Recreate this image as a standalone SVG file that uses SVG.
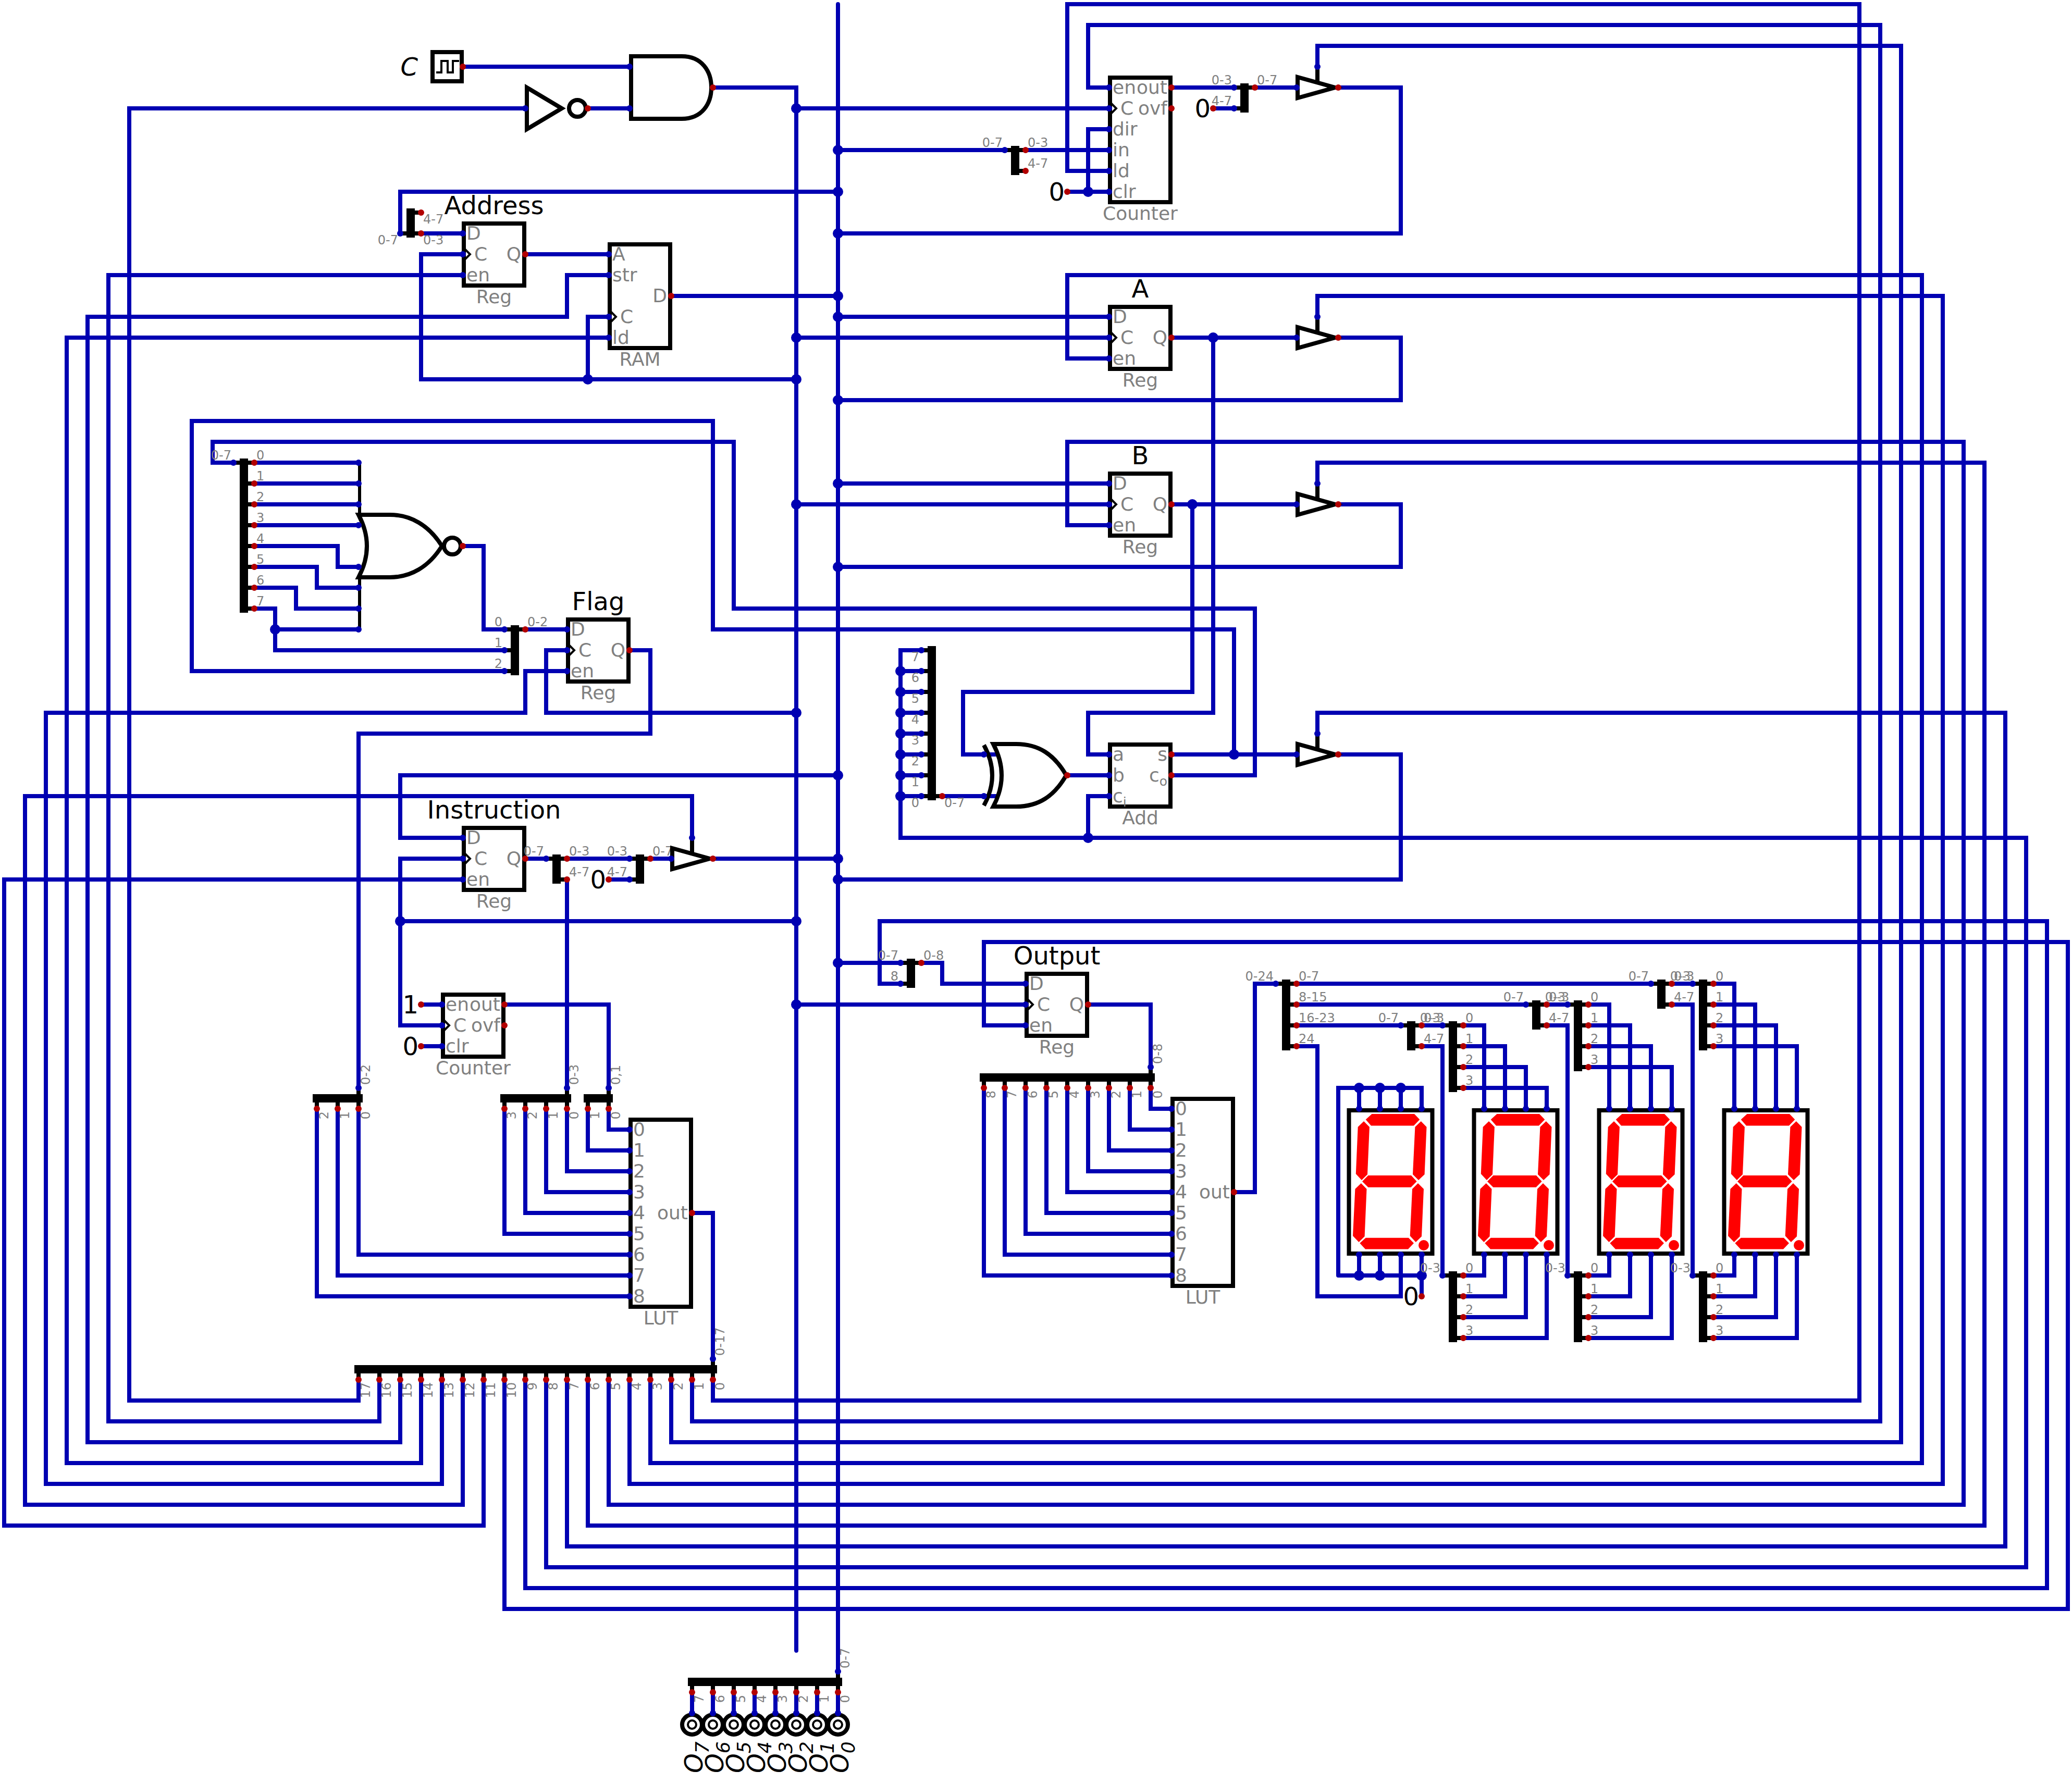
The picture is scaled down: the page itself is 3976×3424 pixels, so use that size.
<svg xmlns="http://www.w3.org/2000/svg" xmlns:xlink="http://www.w3.org/1999/xlink" width="3976" height="3424" viewBox="0 0 3976 3424">
<style>
.w{fill:none;stroke:#0000b2;stroke-width:8;stroke-linecap:round;stroke-linejoin:miter}
.j{fill:none;stroke:#0000b2;stroke-width:20;stroke-linecap:round}
.pi{fill:none;stroke:#0000b2;stroke-width:12;stroke-linecap:round}
.po{fill:none;stroke:#b20000;stroke-width:12;stroke-linecap:round}
.k{fill:none;stroke:#000;stroke-width:8}
.b{fill:#fff;stroke:#000;stroke-width:8}
.t{fill:none;stroke:#000;stroke-width:4}
text{font-family:"DejaVu Sans","Liberation Sans",sans-serif}
.l{font-size:36px;fill:#808080}
.s{font-size:24px;fill:#808080}
.n{font-size:48px;fill:#000}
.e{text-anchor:end}
.m{text-anchor:middle}
.i{font-style:italic}
.u{font-size:36px}
.v{font-size:25px}
</style>
<defs>
<g id="seg" fill="#f00">
<polygon points="12.7,20.7 24.5,10 106,10 116.3,20.7 104.9,32.4 23,32.4"/>
<polygon points="9,24 19.9,35 16,126 4.9,137 -6.2,125 -2.3,35"/>
<polygon points="118.8,24 129.5,35 125.6,126 114,137 103,126 107.4,35"/>
<polygon points="6,139.6 17.4,128 100,128 110.6,139.6 99.5,150.8 17.4,150.8"/>
<polygon points="3.8,143 14.5,154 10.6,245 -0.5,256 -12,244 -7.6,154"/>
<polygon points="113,143 124,154 120,245 108.8,256 97.7,244 102,154"/>
<polygon points="1.3,258 12.7,247.7 94.9,247.7 105,258 94,269.6 12,269.6"/>
<circle cx="124" cy="262" r="10"/>
</g>
<g id="ring"><circle r="19" fill="none" stroke="#000" stroke-width="8"/><circle r="8" fill="none" stroke="#000" stroke-width="4"/></g>
</defs>
<g transform="translate(8 8)">
<g id="connectors">
<path class="w" d="M880 120H1200M1120 200H1200M1360 160H1520V3160M1520 200H2120M1600 0V3200"/>
<path class="w" d="M760 440V360H1600M800 440H880M1000 480H1160M880 480H800V720H1520M1120 720V600H1160M1280 560H1600"/>
<path class="w" d="M1600 280H1920M1960 280H2120M2120 240H2080V360M2040 360H2120M2240 160H2360M2320 200H2360M2400 160H2480M2560 160H2680V440H1600"/>
<path class="w" d="M1600 600H2120M1520 640H2120M2240 640H2480M2560 640H2680V760H1600M2320 640V1360H2080V1440H2120"/>
<path class="w" d="M1600 920H2120M1520 960H2120M2240 960H2480M2560 960H2680V1080H1600M2280 960V1320H1840V1440H1905"/>
<path class="w" d="M480 880H680M480 920H680M480 960H680M480 1000H680M480 1040H640V1080H680M480 1080H600V1120H680M480 1120H560V1160H680M480 1160H520V1240H960M520 1200H680M880 1040H920V1200H960M1000 1200H1080"/>
<path class="w" d="M1080 1240H1040V1360H1520M1200 1240H1240V1400H680V2080M960 1280H360V800H1360V1200H2360V1440M440 880H400V840H1400V1160H2400V1480H2240M2240 1440H2480M2560 1440H2680V1680H1600"/>
<path class="w" d="M1800 1520H1905M2040 1480H2120M2120 1520H2080V1600M1720 1280H1760M1720 1320H1760M1720 1360H1760M1720 1400H1760M1720 1440H1760M1720 1480H1760M1720 1520H1760"/>
<path class="w" d="M880 1600H760V1480H1600M880 1640H760V1960H840M760 1760H1520M1000 1640H1040M1080 1640H1200M1160 1680H1200M1240 1640H1280M1360 1640H1600M1080 1680V2080M800 1920H840M800 2000H840M960 1920H1160V2080"/>
<path class="w" d="M1160 2120V2160H1200M1120 2120V2200H1200M1080 2120V2240H1200M1040 2120V2280H1200M1000 2120V2320H1200M960 2120V2360H1200M680 2120V2400H1200M640 2120V2440H1200M600 2120V2480H1200M1320 2320H1360V2600"/>
<path class="w" d="M1360 2640V2680H3560V0H2040V320H2120M1320 2640V2720H3600V40H2080V160H2120M1280 2640V2760H3640V80H2520V120M1240 2640V2800H3680V520H2040V680H2120M1200 2640V2840H3720V560H2520V600M1160 2640V2880H3760V840H2040V1000H2120M1120 2640V2920H3800V880H2520V920M1080 2640V2960H3840V1360H2520V1400M1040 2640V3000H3880V1600H1720V1240H1760M1000 2640V3040H3920V1760H1680V1880H1720M960 2640V3080H3960V1800H1880V1960H1960"/>
<path class="w" d="M920 2640V2920H0V1680H880M880 2640V2880H40V1520H1320V1600M840 2640V2840H80V1360H1000V1280H1080M800 2640V2800H120V640H1160M760 2640V2760H160V600H1080V520H1160M720 2640V2720H200V520H880M680 2640V2680H240V200H1000"/>
<path class="w" d="M1600 1840H1720M1760 1840H1800V1880H1960M1520 1920H1960M2080 1920H2200V2040M2200 2080V2120H2240M2160 2080V2160H2240M2120 2080V2200H2240M2080 2080V2240H2240M2040 2080V2280H2240M2000 2080V2320H2240M1960 2080V2360H2240M1920 2080V2400H2240M1880 2080V2440H2240M2360 2280H2400V1880H2440"/>
<path class="w" d="M2560 2440V2080H2720V2120M2600 2080V2120M2640 2080V2120M2680 2080V2120M2560 2440H2720M2600 2400V2440M2640 2400V2440M2720 2400V2480M2680 2400V2480H2520V2000H2480"/>
<path class="w" d="M2480 1960H2680M2720 1960H2760M2720 2000H2760V2440M2800 1960H2840V2120M2800 2000H2880V2120M2800 2040H2920V2120M2800 2080H2960V2120M2800 2440H2840V2400M2800 2480H2880V2400M2800 2520H2920V2400M2800 2560H2960V2400"/>
<path class="w" d="M2480 1920H2920M2960 1920H3000M2960 1960H3000V2440M3040 1920H3080V2120M3040 1960H3120V2120M3040 2000H3160V2120M3040 2040H3200V2120M3040 2440H3080V2400M3040 2480H3120V2400M3040 2520H3160V2400M3040 2560H3200V2400"/>
<path class="w" d="M2480 1880H3160M3200 1880H3240M3200 1920H3240V2440M3280 1880H3320V2120M3280 1920H3360V2120M3280 1960H3400V2120M3280 2000H3440V2120M3280 2440H3320V2400M3280 2480H3360V2400M3280 2520H3400V2400M3280 2560H3440V2400"/>
<path class="w" d="M1320 3240V3280M1360 3240V3280M1400 3240V3280M1440 3240V3280M1480 3240V3280M1520 3240V3280M1560 3240V3280M1600 3240V3280"/>
<path class="j" d="M1520 200h0M1520 640h0M1520 720h0M1520 960h0M1520 1360h0M1520 1760h0M1520 1920h0M1600 280h0M1600 360h0M1600 440h0M1600 560h0M1600 600h0M1600 760h0M1600 920h0M1600 1080h0M1600 1480h0M1600 1640h0M1600 1680h0M1600 1840h0M1120 720h0M760 1760h0M520 1200h0M2080 360h0M2320 640h0M2280 960h0M2360 1440h0M2080 1600h0M1720 1280h0M1720 1320h0M1720 1360h0M1720 1400h0M1720 1440h0M1720 1480h0M1720 1520h0M2600 2080h0M2640 2080h0M2680 2080h0M2600 2440h0M2640 2440h0M2720 2440h0"/>
</g>
<g id="clock"><rect class="b" x="822" y="92" width="56" height="56"/><path class="t" d="M829 131H839V109H851V131H861V109H873"/><text class="n i e" x="794" y="137">C</text><path class="po" d="M880 120h0"/></g>
<g id="not"><polygon class="b" points="1003,160 1003,240 1070,200"/><circle class="b" cx="1100" cy="200" r="16"/><path class="pi" d="M1000 200h0"/><path class="po" d="M1120 200h0"/></g>
<g id="and"><path class="b" d="M1203 100H1300C1340 100 1357 130 1357 160C1357 190 1340 220 1300 220H1203Z"/><path class="pi" d="M1200 120h0M1200 200h0"/><path class="po" d="M1360 160h0"/></g>
<g id="split-addr"><path class="k" d="M760 440H800M780 400H800"/><rect x="772" y="392" width="16" height="56"/><path class="pi" d="M760 440h0"/><path class="po" d="M800 400h0M800 440h0"/><text class="s e" x="756" y="461">0-7</text><text class="s" x="804" y="461">0-3</text><text class="s" x="804" y="421">4-7</text></g>
<g id="reg-address"><rect class="b" x="882" y="421" width="116" height="119"/><path class="t" d="M882 468L894 480L882 492"/><text class="n m" x="940" y="403">Address</text><text class="l" x="887" y="452">D</text><text class="l" x="902" y="492">C</text><text class="l" x="887" y="532">en</text><text class="l e" x="992" y="492">Q</text><text class="l m" x="940" y="574">Reg</text><path class="pi" d="M880 440h0M880 480h0M880 520h0"/><path class="po" d="M1000 480h0"/></g>
<g id="ram"><rect class="b" x="1162" y="461" width="116" height="199"/><path class="t" d="M1162 588L1174 600L1162 612"/><text class="l" x="1167" y="492">A</text><text class="l" x="1167" y="532">str</text><text class="l" x="1182" y="612">C</text><text class="l" x="1167" y="652">ld</text><text class="l e" x="1272" y="572">D</text><text class="l m" x="1220" y="694">RAM</text><path class="pi" d="M1160 480h0M1160 520h0M1160 600h0M1160 640h0"/><path class="po" d="M1280 560h0"/></g>
<g id="split-nor"><path class="k" d="M440 880H480M460 920H480M460 960H480M460 1000H480M460 1040H480M460 1080H480M460 1120H480M460 1160H480"/><rect x="452" y="872" width="16" height="296"/><path class="pi" d="M440 880h0"/><path class="po" d="M480 880h0M480 920h0M480 960h0M480 1000h0M480 1040h0M480 1080h0M480 1120h0M480 1160h0"/><text class="s e" x="436" y="874">0-7</text><text class="s" x="484" y="874">0</text><text class="s" x="484" y="914">1</text><text class="s" x="484" y="954">2</text><text class="s" x="484" y="994">3</text><text class="s" x="484" y="1034">4</text><text class="s" x="484" y="1074">5</text><text class="s" x="484" y="1114">6</text><text class="s" x="484" y="1154">7</text></g>
<g id="nor"><path d="M682 880V980M682 1100V1200" fill="none" stroke="#000" stroke-width="6"/><path class="b" d="M680 980H740C780 980 815 1000 840 1040C815 1080 780 1100 740 1100H680Q712 1040 680 980Z"/><circle class="b" cx="860" cy="1040" r="16"/><path class="pi" d="M680 880h0M680 920h0M680 960h0M680 1000h0M680 1080h0M680 1120h0M680 1160h0M680 1200h0"/><path class="po" d="M880 1040h0"/></g>
<g id="split-flag"><path class="k" d="M960 1200H1000M960 1240H980M960 1280H980"/><rect x="972" y="1192" width="16" height="96"/><path class="pi" d="M960 1200h0M960 1240h0M960 1280h0"/><path class="po" d="M1000 1200h0"/><text class="s e" x="956" y="1194">0</text><text class="s e" x="956" y="1234">1</text><text class="s e" x="956" y="1274">2</text><text class="s" x="1004" y="1194">0-2</text></g>
<g id="reg-flag"><rect class="b" x="1082" y="1181" width="116" height="119"/><path class="t" d="M1082 1228L1094 1240L1082 1252"/><text class="n m" x="1140" y="1163">Flag</text><text class="l" x="1087" y="1212">D</text><text class="l" x="1102" y="1252">C</text><text class="l" x="1087" y="1292">en</text><text class="l e" x="1192" y="1252">Q</text><text class="l m" x="1140" y="1334">Reg</text><path class="pi" d="M1080 1200h0M1080 1240h0M1080 1280h0"/><path class="po" d="M1200 1240h0"/></g>
<g id="reg-instruction"><rect class="b" x="882" y="1581" width="116" height="119"/><path class="t" d="M882 1628L894 1640L882 1652"/><text class="n m" x="940" y="1563">Instruction</text><text class="l" x="887" y="1612">D</text><text class="l" x="902" y="1652">C</text><text class="l" x="887" y="1692">en</text><text class="l e" x="992" y="1652">Q</text><text class="l m" x="940" y="1734">Reg</text><path class="pi" d="M880 1600h0M880 1640h0M880 1680h0"/><path class="po" d="M1000 1640h0"/></g>
<g id="split-instr1"><path class="k" d="M1040 1640H1080M1060 1680H1080"/><rect x="1052" y="1632" width="16" height="56"/><path class="pi" d="M1040 1640h0"/><path class="po" d="M1080 1640h0M1080 1680h0"/><text class="s e" x="1036" y="1634">0-7</text><text class="s" x="1084" y="1634">0-3</text><text class="s" x="1084" y="1674">4-7</text></g>
<g id="split-instr2"><path class="k" d="M1200 1640H1240M1200 1680H1220"/><rect x="1212" y="1632" width="16" height="56"/><path class="pi" d="M1200 1640h0M1200 1680h0"/><path class="po" d="M1240 1640h0"/><text class="s e" x="1196" y="1634">0-3</text><text class="s e" x="1196" y="1674">4-7</text><text class="s" x="1244" y="1634">0-7</text></g>
<g id="const-instr"><text class="n e" x="1155" y="1697">0</text><path class="po" d="M1160 1680h0"/></g>
<g id="tri-instr"><path class="k" d="M1320 1600V1630"/><polygon class="b" points="1282,1620 1282,1660 1354,1640"/><path class="pi" d="M1280 1640h0M1320 1600h0"/><path class="po" d="M1360 1640h0"/></g>
<g id="const-1"><text class="n e" x="795" y="1937">1</text><path class="po" d="M800 1920h0"/></g>
<g id="const-2"><text class="n e" x="795" y="2017">0</text><path class="po" d="M800 2000h0"/></g>
<g id="counter-2"><rect class="b" x="842" y="1901" width="116" height="119"/><path class="t" d="M842 1948L854 1960L842 1972"/><text class="l" x="847" y="1932">en</text><text class="l" x="862" y="1972">C</text><text class="l" x="847" y="2012">clr</text><text class="l e" x="952" y="1932">out</text><text class="l e" x="952" y="1972">ovf</text><text class="l m" x="900" y="2054">Counter</text><path class="pi" d="M840 1920h0M840 1960h0M840 2000h0"/><path class="po" d="M960 1920h0M960 1960h0"/></g>
<g id="split-lut-a"><path class="k" d="M680 2080V2120M640 2100V2120M600 2100V2120"/><rect x="592" y="2092" width="96" height="16"/><path class="pi" d="M680 2080h0"/><path class="po" d="M680 2120h0M640 2120h0M600 2120h0"/><text class="s" transform="translate(702 2074) rotate(-90)">0-2</text><text class="s e" transform="translate(702 2125) rotate(-90)">0</text><text class="s e" transform="translate(662 2125) rotate(-90)">1</text><text class="s e" transform="translate(622 2125) rotate(-90)">2</text></g>
<g id="split-lut-b"><path class="k" d="M1080 2080V2120M1040 2100V2120M1000 2100V2120M960 2100V2120"/><rect x="952" y="2092" width="136" height="16"/><path class="pi" d="M1080 2080h0"/><path class="po" d="M1080 2120h0M1040 2120h0M1000 2120h0M960 2120h0"/><text class="s" transform="translate(1102 2074) rotate(-90)">0-3</text><text class="s e" transform="translate(1102 2125) rotate(-90)">0</text><text class="s e" transform="translate(1062 2125) rotate(-90)">1</text><text class="s e" transform="translate(1022 2125) rotate(-90)">2</text><text class="s e" transform="translate(982 2125) rotate(-90)">3</text></g>
<g id="split-lut-c"><path class="k" d="M1160 2080V2120M1120 2100V2120"/><rect x="1112" y="2092" width="56" height="16"/><path class="pi" d="M1160 2080h0"/><path class="po" d="M1160 2120h0M1120 2120h0"/><text class="s" transform="translate(1182 2074) rotate(-90)">0,1</text><text class="s e" transform="translate(1182 2125) rotate(-90)">0</text><text class="s e" transform="translate(1142 2125) rotate(-90)">1</text></g>
<g id="lut-1"><rect class="b" x="1202" y="2141" width="116" height="359"/><text class="l" x="1207" y="2172">0</text><text class="l" x="1207" y="2212">1</text><text class="l" x="1207" y="2252">2</text><text class="l" x="1207" y="2292">3</text><text class="l" x="1207" y="2332">4</text><text class="l" x="1207" y="2372">5</text><text class="l" x="1207" y="2412">6</text><text class="l" x="1207" y="2452">7</text><text class="l" x="1207" y="2492">8</text><text class="l e" x="1312" y="2332">out</text><text class="l m" x="1260" y="2534">LUT</text><path class="pi" d="M1200 2160h0M1200 2200h0M1200 2240h0M1200 2280h0M1200 2320h0M1200 2360h0M1200 2400h0M1200 2440h0M1200 2480h0"/><path class="po" d="M1320 2320h0"/></g>
<g id="split-18"><path class="k" d="M1360 2600V2640M1320 2620V2640M1280 2620V2640M1240 2620V2640M1200 2620V2640M1160 2620V2640M1120 2620V2640M1080 2620V2640M1040 2620V2640M1000 2620V2640M960 2620V2640M920 2620V2640M880 2620V2640M840 2620V2640M800 2620V2640M760 2620V2640M720 2620V2640M680 2620V2640"/><rect x="672" y="2612" width="696" height="16"/><path class="pi" d="M1360 2600h0"/><path class="po" d="M1360 2640h0M1320 2640h0M1280 2640h0M1240 2640h0M1200 2640h0M1160 2640h0M1120 2640h0M1080 2640h0M1040 2640h0M1000 2640h0M960 2640h0M920 2640h0M880 2640h0M840 2640h0M800 2640h0M760 2640h0M720 2640h0M680 2640h0"/><text class="s" transform="translate(1382 2594) rotate(-90)">0-17</text><text class="s e" transform="translate(1382 2645) rotate(-90)">0</text><text class="s e" transform="translate(1342 2645) rotate(-90)">1</text><text class="s e" transform="translate(1302 2645) rotate(-90)">2</text><text class="s e" transform="translate(1262 2645) rotate(-90)">3</text><text class="s e" transform="translate(1222 2645) rotate(-90)">4</text><text class="s e" transform="translate(1182 2645) rotate(-90)">5</text><text class="s e" transform="translate(1142 2645) rotate(-90)">6</text><text class="s e" transform="translate(1102 2645) rotate(-90)">7</text><text class="s e" transform="translate(1062 2645) rotate(-90)">8</text><text class="s e" transform="translate(1022 2645) rotate(-90)">9</text><text class="s e" transform="translate(982 2645) rotate(-90)">10</text><text class="s e" transform="translate(942 2645) rotate(-90)">11</text><text class="s e" transform="translate(902 2645) rotate(-90)">12</text><text class="s e" transform="translate(862 2645) rotate(-90)">13</text><text class="s e" transform="translate(822 2645) rotate(-90)">14</text><text class="s e" transform="translate(782 2645) rotate(-90)">15</text><text class="s e" transform="translate(742 2645) rotate(-90)">16</text><text class="s e" transform="translate(702 2645) rotate(-90)">17</text></g>
<g id="split-counter-in"><path class="k" d="M1920 280H1960M1940 320H1960"/><rect x="1932" y="272" width="16" height="56"/><path class="pi" d="M1920 280h0"/><path class="po" d="M1960 280h0M1960 320h0"/><text class="s e" x="1916" y="274">0-7</text><text class="s" x="1964" y="274">0-3</text><text class="s" x="1964" y="314">4-7</text></g>
<g id="counter-1"><rect class="b" x="2122" y="141" width="116" height="239"/><path class="t" d="M2122 188L2134 200L2122 212"/><text class="l" x="2127" y="172">en</text><text class="l" x="2142" y="212">C</text><text class="l" x="2127" y="252">dir</text><text class="l" x="2127" y="292">in</text><text class="l" x="2127" y="332">ld</text><text class="l" x="2127" y="372">clr</text><text class="l e" x="2232" y="172">out</text><text class="l e" x="2232" y="212">ovf</text><text class="l m" x="2180" y="414">Counter</text><path class="pi" d="M2120 160h0M2120 200h0M2120 240h0M2120 280h0M2120 320h0M2120 360h0"/><path class="po" d="M2240 160h0M2240 200h0"/></g>
<g id="const-3"><text class="n e" x="2035" y="377">0</text><path class="po" d="M2040 360h0"/></g>
<g id="const-4"><text class="n e" x="2315" y="217">0</text><path class="po" d="M2320 200h0"/></g>
<g id="split-counter-out"><path class="k" d="M2360 160H2400M2360 200H2380"/><rect x="2372" y="152" width="16" height="56"/><path class="pi" d="M2360 160h0M2360 200h0"/><path class="po" d="M2400 160h0"/><text class="s e" x="2356" y="154">0-3</text><text class="s e" x="2356" y="194">4-7</text><text class="s" x="2404" y="154">0-7</text></g>
<g id="tri-counter"><path class="k" d="M2520 120V150"/><polygon class="b" points="2482,140 2482,180 2554,160"/><path class="pi" d="M2480 160h0M2520 120h0"/><path class="po" d="M2560 160h0"/></g>
<g id="reg-a"><rect class="b" x="2122" y="581" width="116" height="119"/><path class="t" d="M2122 628L2134 640L2122 652"/><text class="n m" x="2180" y="563">A</text><text class="l" x="2127" y="612">D</text><text class="l" x="2142" y="652">C</text><text class="l" x="2127" y="692">en</text><text class="l e" x="2232" y="652">Q</text><text class="l m" x="2180" y="734">Reg</text><path class="pi" d="M2120 600h0M2120 640h0M2120 680h0"/><path class="po" d="M2240 640h0"/></g>
<g id="tri-a"><path class="k" d="M2520 600V630"/><polygon class="b" points="2482,620 2482,660 2554,640"/><path class="pi" d="M2480 640h0M2520 600h0"/><path class="po" d="M2560 640h0"/></g>
<g id="reg-b"><rect class="b" x="2122" y="901" width="116" height="119"/><path class="t" d="M2122 948L2134 960L2122 972"/><text class="n m" x="2180" y="883">B</text><text class="l" x="2127" y="932">D</text><text class="l" x="2142" y="972">C</text><text class="l" x="2127" y="1012">en</text><text class="l e" x="2232" y="972">Q</text><text class="l m" x="2180" y="1054">Reg</text><path class="pi" d="M2120 920h0M2120 960h0M2120 1000h0"/><path class="po" d="M2240 960h0"/></g>
<g id="tri-b"><path class="k" d="M2520 920V950"/><polygon class="b" points="2482,940 2482,980 2554,960"/><path class="pi" d="M2480 960h0M2520 920h0"/><path class="po" d="M2560 960h0"/></g>
<g id="split-xor"><path class="k" d="M1760 1240H1780M1760 1280H1780M1760 1320H1780M1760 1360H1780M1760 1400H1780M1760 1440H1780M1760 1480H1780M1760 1520H1800"/><rect x="1772" y="1232" width="16" height="296"/><path class="pi" d="M1760 1240h0M1760 1280h0M1760 1320h0M1760 1360h0M1760 1400h0M1760 1440h0M1760 1480h0M1760 1520h0"/><path class="po" d="M1800 1520h0"/><text class="s e" x="1756" y="1261">7</text><text class="s e" x="1756" y="1301">6</text><text class="s e" x="1756" y="1341">5</text><text class="s e" x="1756" y="1381">4</text><text class="s e" x="1756" y="1421">3</text><text class="s e" x="1756" y="1461">2</text><text class="s e" x="1756" y="1501">1</text><text class="s e" x="1756" y="1541">0</text><text class="s" x="1804" y="1541">0-7</text></g>
<g id="xor"><path class="k" d="M1880 1422Q1912 1480 1880 1538"/><path class="b" d="M1898 1420H1942C1985 1420 2015 1440 2038 1480C2015 1520 1985 1540 1942 1540H1898Q1930 1480 1898 1420Z"/><path class="pi" d="M1880 1440h0M1880 1520h0"/><path class="po" d="M2040 1480h0"/></g>
<g id="add"><rect class="b" x="2122" y="1421" width="116" height="119"/><text class="l" x="2127" y="1452">a</text><text class="l" x="2127" y="1492">b</text><text class="l" x="2127" y="1532">c<tspan class="v" dy="8">i</tspan></text><text class="l e" x="2232" y="1452">s</text><text class="l e" x="2232" y="1492">c<tspan class="v" dy="8">o</tspan></text><text class="l m" x="2180" y="1574">Add</text><path class="pi" d="M2120 1440h0M2120 1480h0M2120 1520h0"/><path class="po" d="M2240 1440h0M2240 1480h0"/></g>
<g id="tri-add"><path class="k" d="M2520 1400V1430"/><polygon class="b" points="2482,1420 2482,1460 2554,1440"/><path class="pi" d="M2480 1440h0M2520 1400h0"/><path class="po" d="M2560 1440h0"/></g>
<g id="split-output"><path class="k" d="M1720 1840H1760M1720 1880H1740"/><rect x="1732" y="1832" width="16" height="56"/><path class="pi" d="M1720 1840h0M1720 1880h0"/><path class="po" d="M1760 1840h0"/><text class="s e" x="1716" y="1834">0-7</text><text class="s e" x="1716" y="1874">8</text><text class="s" x="1764" y="1834">0-8</text></g>
<g id="reg-output"><rect class="b" x="1962" y="1861" width="116" height="119"/><path class="t" d="M1962 1908L1974 1920L1962 1932"/><text class="n m" x="2020" y="1843">Output</text><text class="l" x="1967" y="1892">D</text><text class="l" x="1982" y="1932">C</text><text class="l" x="1967" y="1972">en</text><text class="l e" x="2072" y="1932">Q</text><text class="l m" x="2020" y="2014">Reg</text><path class="pi" d="M1960 1880h0M1960 1920h0M1960 1960h0"/><path class="po" d="M2080 1920h0"/></g>
<g id="split-9"><path class="k" d="M2200 2040V2080M2160 2060V2080M2120 2060V2080M2080 2060V2080M2040 2060V2080M2000 2060V2080M1960 2060V2080M1920 2060V2080M1880 2060V2080"/><rect x="1872" y="2052" width="336" height="16"/><path class="pi" d="M2200 2040h0"/><path class="po" d="M2200 2080h0M2160 2080h0M2120 2080h0M2080 2080h0M2040 2080h0M2000 2080h0M1960 2080h0M1920 2080h0M1880 2080h0"/><text class="s" transform="translate(2222 2034) rotate(-90)">0-8</text><text class="s e" transform="translate(2222 2085) rotate(-90)">0</text><text class="s e" transform="translate(2182 2085) rotate(-90)">1</text><text class="s e" transform="translate(2142 2085) rotate(-90)">2</text><text class="s e" transform="translate(2102 2085) rotate(-90)">3</text><text class="s e" transform="translate(2062 2085) rotate(-90)">4</text><text class="s e" transform="translate(2022 2085) rotate(-90)">5</text><text class="s e" transform="translate(1982 2085) rotate(-90)">6</text><text class="s e" transform="translate(1942 2085) rotate(-90)">7</text><text class="s e" transform="translate(1902 2085) rotate(-90)">8</text></g>
<g id="lut-2"><rect class="b" x="2242" y="2101" width="116" height="359"/><text class="l" x="2247" y="2132">0</text><text class="l" x="2247" y="2172">1</text><text class="l" x="2247" y="2212">2</text><text class="l" x="2247" y="2252">3</text><text class="l" x="2247" y="2292">4</text><text class="l" x="2247" y="2332">5</text><text class="l" x="2247" y="2372">6</text><text class="l" x="2247" y="2412">7</text><text class="l" x="2247" y="2452">8</text><text class="l e" x="2352" y="2292">out</text><text class="l m" x="2300" y="2494">LUT</text><path class="pi" d="M2240 2120h0M2240 2160h0M2240 2200h0M2240 2240h0M2240 2280h0M2240 2320h0M2240 2360h0M2240 2400h0M2240 2440h0"/><path class="po" d="M2360 2280h0"/></g>
<g id="split-25"><path class="k" d="M2440 1880H2480M2460 1920H2480M2460 1960H2480M2460 2000H2480"/><rect x="2452" y="1872" width="16" height="136"/><path class="pi" d="M2440 1880h0"/><path class="po" d="M2480 1880h0M2480 1920h0M2480 1960h0M2480 2000h0"/><text class="s e" x="2436" y="1874">0-24</text><text class="s" x="2484" y="1874">0-7</text><text class="s" x="2484" y="1914">8-15</text><text class="s" x="2484" y="1954">16-23</text><text class="s" x="2484" y="1994">24</text></g>
<g id="split-d2a"><path class="k" d="M2680 1960H2720M2700 2000H2720"/><rect x="2692" y="1952" width="16" height="56"/><path class="pi" d="M2680 1960h0"/><path class="po" d="M2720 1960h0M2720 2000h0"/><text class="s e" x="2676" y="1954">0-7</text><text class="s" x="2724" y="1954">0-3</text><text class="s" x="2724" y="1994">4-7</text></g>
<g id="split-d2b"><path class="k" d="M2760 1960H2800M2780 2000H2800M2780 2040H2800M2780 2080H2800"/><rect x="2772" y="1952" width="16" height="136"/><path class="pi" d="M2760 1960h0"/><path class="po" d="M2800 1960h0M2800 2000h0M2800 2040h0M2800 2080h0"/><text class="s e" x="2756" y="1954">0-3</text><text class="s" x="2804" y="1954">0</text><text class="s" x="2804" y="1994">1</text><text class="s" x="2804" y="2034">2</text><text class="s" x="2804" y="2074">3</text></g>
<g id="split-d2c"><path class="k" d="M2760 2440H2800M2780 2480H2800M2780 2520H2800M2780 2560H2800"/><rect x="2772" y="2432" width="16" height="136"/><path class="pi" d="M2760 2440h0"/><path class="po" d="M2800 2440h0M2800 2480h0M2800 2520h0M2800 2560h0"/><text class="s e" x="2756" y="2434">0-3</text><text class="s" x="2804" y="2434">0</text><text class="s" x="2804" y="2474">1</text><text class="s" x="2804" y="2514">2</text><text class="s" x="2804" y="2554">3</text></g>
<g id="split-d3a"><path class="k" d="M2920 1920H2960M2940 1960H2960"/><rect x="2932" y="1912" width="16" height="56"/><path class="pi" d="M2920 1920h0"/><path class="po" d="M2960 1920h0M2960 1960h0"/><text class="s e" x="2916" y="1914">0-7</text><text class="s" x="2964" y="1914">0-3</text><text class="s" x="2964" y="1954">4-7</text></g>
<g id="split-d3b"><path class="k" d="M3000 1920H3040M3020 1960H3040M3020 2000H3040M3020 2040H3040"/><rect x="3012" y="1912" width="16" height="136"/><path class="pi" d="M3000 1920h0"/><path class="po" d="M3040 1920h0M3040 1960h0M3040 2000h0M3040 2040h0"/><text class="s e" x="2996" y="1914">0-3</text><text class="s" x="3044" y="1914">0</text><text class="s" x="3044" y="1954">1</text><text class="s" x="3044" y="1994">2</text><text class="s" x="3044" y="2034">3</text></g>
<g id="split-d3c"><path class="k" d="M3000 2440H3040M3020 2480H3040M3020 2520H3040M3020 2560H3040"/><rect x="3012" y="2432" width="16" height="136"/><path class="pi" d="M3000 2440h0"/><path class="po" d="M3040 2440h0M3040 2480h0M3040 2520h0M3040 2560h0"/><text class="s e" x="2996" y="2434">0-3</text><text class="s" x="3044" y="2434">0</text><text class="s" x="3044" y="2474">1</text><text class="s" x="3044" y="2514">2</text><text class="s" x="3044" y="2554">3</text></g>
<g id="split-d4a"><path class="k" d="M3160 1880H3200M3180 1920H3200"/><rect x="3172" y="1872" width="16" height="56"/><path class="pi" d="M3160 1880h0"/><path class="po" d="M3200 1880h0M3200 1920h0"/><text class="s e" x="3156" y="1874">0-7</text><text class="s" x="3204" y="1874">0-3</text><text class="s" x="3204" y="1914">4-7</text></g>
<g id="split-d4b"><path class="k" d="M3240 1880H3280M3260 1920H3280M3260 1960H3280M3260 2000H3280"/><rect x="3252" y="1872" width="16" height="136"/><path class="pi" d="M3240 1880h0"/><path class="po" d="M3280 1880h0M3280 1920h0M3280 1960h0M3280 2000h0"/><text class="s e" x="3236" y="1874">0-3</text><text class="s" x="3284" y="1874">0</text><text class="s" x="3284" y="1914">1</text><text class="s" x="3284" y="1954">2</text><text class="s" x="3284" y="1994">3</text></g>
<g id="split-d4c"><path class="k" d="M3240 2440H3280M3260 2480H3280M3260 2520H3280M3260 2560H3280"/><rect x="3252" y="2432" width="16" height="136"/><path class="pi" d="M3240 2440h0"/><path class="po" d="M3280 2440h0M3280 2480h0M3280 2520h0M3280 2560h0"/><text class="s e" x="3236" y="2434">0-3</text><text class="s" x="3284" y="2434">0</text><text class="s" x="3284" y="2474">1</text><text class="s" x="3284" y="2514">2</text><text class="s" x="3284" y="2554">3</text></g>
<g id="seven-1"><rect class="b" x="2580.5" y="2123" width="160" height="275"/><use href="#seg" xlink:href="#seg" x="2600" y="2120"/><path class="pi" d="M2600 2120h0M2640 2120h0M2680 2120h0M2720 2120h0M2600 2400h0M2640 2400h0M2680 2400h0M2720 2400h0"/></g>
<g id="seven-2"><rect class="b" x="2820.5" y="2123" width="160" height="275"/><use href="#seg" xlink:href="#seg" x="2840" y="2120"/><path class="pi" d="M2840 2120h0M2880 2120h0M2920 2120h0M2960 2120h0M2840 2400h0M2880 2400h0M2920 2400h0M2960 2400h0"/></g>
<g id="seven-3"><rect class="b" x="3060.5" y="2123" width="160" height="275"/><use href="#seg" xlink:href="#seg" x="3080" y="2120"/><path class="pi" d="M3080 2120h0M3120 2120h0M3160 2120h0M3200 2120h0M3080 2400h0M3120 2400h0M3160 2400h0M3200 2400h0"/></g>
<g id="seven-4"><rect class="b" x="3300.5" y="2123" width="160" height="275"/><use href="#seg" xlink:href="#seg" x="3320" y="2120"/><path class="pi" d="M3320 2120h0M3360 2120h0M3400 2120h0M3440 2120h0M3320 2400h0M3360 2400h0M3400 2400h0M3440 2400h0"/></g>
<g id="const-5"><text class="n e" x="2715" y="2497">0</text><path class="po" d="M2720 2480h0"/></g>
<g id="split-out"><path class="k" d="M1600 3200V3240M1560 3220V3240M1520 3220V3240M1480 3220V3240M1440 3220V3240M1400 3220V3240M1360 3220V3240M1320 3220V3240"/><rect x="1312" y="3212" width="296" height="16"/><path class="pi" d="M1600 3200h0"/><path class="po" d="M1600 3240h0M1560 3240h0M1520 3240h0M1480 3240h0M1440 3240h0M1400 3240h0M1360 3240h0M1320 3240h0"/><text class="s" transform="translate(1622 3194) rotate(-90)">0-7</text><text class="s e" transform="translate(1622 3245) rotate(-90)">0</text><text class="s e" transform="translate(1582 3245) rotate(-90)">1</text><text class="s e" transform="translate(1542 3245) rotate(-90)">2</text><text class="s e" transform="translate(1502 3245) rotate(-90)">3</text><text class="s e" transform="translate(1462 3245) rotate(-90)">4</text><text class="s e" transform="translate(1422 3245) rotate(-90)">5</text><text class="s e" transform="translate(1382 3245) rotate(-90)">6</text><text class="s e" transform="translate(1342 3245) rotate(-90)">7</text></g>
<g id="out-7"><use href="#ring" xlink:href="#ring" x="1320" y="3302"/><path class="pi" d="M1320 3280h0"/><text class="n i" transform="translate(1340 3395) rotate(-90)">O<tspan class="u" dy="12">7</tspan></text></g>
<g id="out-6"><use href="#ring" xlink:href="#ring" x="1360" y="3302"/><path class="pi" d="M1360 3280h0"/><text class="n i" transform="translate(1380 3395) rotate(-90)">O<tspan class="u" dy="12">6</tspan></text></g>
<g id="out-5"><use href="#ring" xlink:href="#ring" x="1400" y="3302"/><path class="pi" d="M1400 3280h0"/><text class="n i" transform="translate(1420 3395) rotate(-90)">O<tspan class="u" dy="12">5</tspan></text></g>
<g id="out-4"><use href="#ring" xlink:href="#ring" x="1440" y="3302"/><path class="pi" d="M1440 3280h0"/><text class="n i" transform="translate(1460 3395) rotate(-90)">O<tspan class="u" dy="12">4</tspan></text></g>
<g id="out-3"><use href="#ring" xlink:href="#ring" x="1480" y="3302"/><path class="pi" d="M1480 3280h0"/><text class="n i" transform="translate(1500 3395) rotate(-90)">O<tspan class="u" dy="12">3</tspan></text></g>
<g id="out-2"><use href="#ring" xlink:href="#ring" x="1520" y="3302"/><path class="pi" d="M1520 3280h0"/><text class="n i" transform="translate(1540 3395) rotate(-90)">O<tspan class="u" dy="12">2</tspan></text></g>
<g id="out-1"><use href="#ring" xlink:href="#ring" x="1560" y="3302"/><path class="pi" d="M1560 3280h0"/><text class="n i" transform="translate(1580 3395) rotate(-90)">O<tspan class="u" dy="12">1</tspan></text></g>
<g id="out-0"><use href="#ring" xlink:href="#ring" x="1600" y="3302"/><path class="pi" d="M1600 3280h0"/><text class="n i" transform="translate(1620 3395) rotate(-90)">O<tspan class="u" dy="12">0</tspan></text></g>
</g>
</svg>
